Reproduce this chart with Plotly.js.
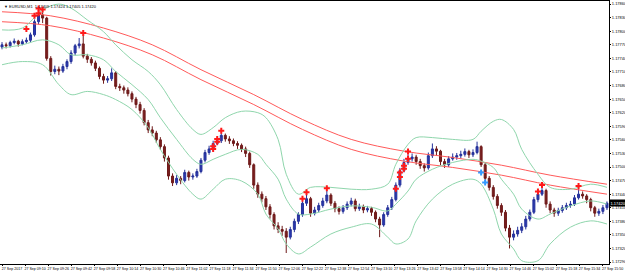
<!DOCTYPE html>
<html><head><meta charset="utf-8">
<script src="https://cdn.plot.ly/plotly-3.0.1.min.js"></script>
<style>html,body{margin:0;padding:0;background:#fff}#c{width:625px;height:273px}</style>
</head><body><div id="c"></div>
<script>
// EURUSD M1 candles
const openP = [1.17765,1.17770,1.17768,1.17775,1.17778,1.17772,1.17777,1.17780,1.17792,1.17821,
1.17836,1.17829,1.17740,1.17711,1.17716,1.17712,1.17722,1.17733,1.17752,1.17768,
1.17772,1.17745,1.17738,1.17730,1.17718,1.17700,1.17692,1.17695,1.17708,1.17678,
1.17675,1.17670,1.17662,1.17650,1.17638,1.17625,1.17598,1.17582,1.17575,1.17560,
1.17545,1.17520,1.17480,1.17465,1.17475,1.17470,1.17488,1.17478,1.17480,1.17490,
1.17515,1.17532,1.17540,1.17552,1.17558,1.17570,1.17562,1.17558,1.17552,1.17548,
1.17540,1.17530,1.17505,1.17460,1.17440,1.17430,1.17412,1.17395,1.17370,1.17362,
1.17358,1.17345,1.17362,1.17380,1.17395,1.17420,1.17430,1.17398,1.17405,1.17415,
1.17425,1.17438,1.17420,1.17408,1.17402,1.17410,1.17418,1.17425,1.17408,1.17412,
1.17405,1.17408,1.17400,1.17385,1.17372,1.17395,1.17410,1.17428,1.17460,1.17492,
1.17510,1.17518,1.17522,1.17512,1.17503,1.17498,1.17525,1.17540,1.17535,1.17512,
1.17505,1.17518,1.17522,1.17525,1.17528,1.17534,1.17527,1.17532,1.17545,1.17505,
1.17475,1.17455,1.17435,1.17415,1.17400,1.17365,1.17345,1.17352,1.17360,1.17368,
1.17385,1.17400,1.17428,1.17440,1.17448,1.17418,1.17405,1.17398,1.17404,1.17410,
1.17415,1.17418,1.17432,1.17440,1.17436,1.17428,1.17410,1.17398,1.17402,1.17410];
const highP = [1.17776,1.17775,1.17779,1.17784,1.17781,1.17782,1.17786,1.17797,1.17826,1.17845,
1.17842,1.17832,1.17745,1.17724,1.17722,1.17728,1.17738,1.17758,1.17772,1.17785,
1.17790,1.17750,1.17743,1.17735,1.17722,1.17706,1.17701,1.17718,1.17712,1.17684,
1.17680,1.17676,1.17667,1.17655,1.17644,1.17630,1.17604,1.17590,1.17580,1.17566,
1.17550,1.17525,1.17486,1.17482,1.17480,1.17494,1.17492,1.17486,1.17496,1.17520,
1.17538,1.17547,1.17558,1.17565,1.17577,1.17574,1.17568,1.17563,1.17557,1.17552,
1.17545,1.17534,1.17508,1.17466,1.17446,1.17436,1.17418,1.17400,1.17378,1.17370,
1.17365,1.17368,1.17386,1.17400,1.17428,1.17440,1.17434,1.17412,1.17421,1.17432,
1.17448,1.17442,1.17425,1.17413,1.17416,1.17424,1.17432,1.17430,1.17419,1.17417,
1.17414,1.17412,1.17404,1.17390,1.17400,1.17416,1.17434,1.17466,1.17498,1.17518,
1.17528,1.17530,1.17527,1.17518,1.17508,1.17532,1.17552,1.17546,1.17538,1.17518,
1.17524,1.17530,1.17531,1.17536,1.17541,1.17538,1.17539,1.17556,1.17548,1.17510,
1.17480,1.17460,1.17440,1.17420,1.17405,1.17372,1.17360,1.17368,1.17376,1.17392,
1.17406,1.17434,1.17450,1.17458,1.17452,1.17424,1.17410,1.17410,1.17416,1.17421,
1.17425,1.17438,1.17452,1.17446,1.17440,1.17432,1.17414,1.17408,1.17416,1.17424];
const lowP = [1.17760,1.17762,1.17764,1.17771,1.17766,1.17769,1.17773,1.17776,1.17788,1.17815,
1.17818,1.17735,1.17702,1.17705,1.17703,1.17708,1.17716,1.17728,1.17747,1.17762,
1.17740,1.17730,1.17724,1.17712,1.17694,1.17684,1.17686,1.17690,1.17672,1.17668,
1.17662,1.17656,1.17643,1.17630,1.17618,1.17592,1.17575,1.17568,1.17553,1.17538,
1.17512,1.17472,1.17458,1.17460,1.17462,1.17466,1.17470,1.17472,1.17476,1.17486,
1.17510,1.17527,1.17535,1.17548,1.17553,1.17556,1.17551,1.17546,1.17540,1.17533,
1.17522,1.17498,1.17452,1.17432,1.17422,1.17405,1.17386,1.17362,1.17354,1.17348,
1.17310,1.17340,1.17356,1.17374,1.17390,1.17414,1.17390,1.17393,1.17400,1.17410,
1.17420,1.17414,1.17400,1.17395,1.17397,1.17405,1.17413,1.17402,1.17403,1.17398,
1.17400,1.17392,1.17378,1.17345,1.17368,1.17390,1.17405,1.17424,1.17455,1.17488,
1.17505,1.17512,1.17505,1.17496,1.17490,1.17494,1.17520,1.17526,1.17504,1.17498,
1.17500,1.17514,1.17516,1.17519,1.17523,1.17520,1.17522,1.17528,1.17500,1.17468,
1.17448,1.17428,1.17408,1.17392,1.17358,1.17320,1.17338,1.17346,1.17354,1.17362,
1.17380,1.17396,1.17422,1.17436,1.17410,1.17398,1.17390,1.17392,1.17399,1.17405,
1.17410,1.17414,1.17428,1.17430,1.17420,1.17402,1.17390,1.17392,1.17396,1.17405];
const closeP = [1.17770,1.17768,1.17775,1.17778,1.17772,1.17777,1.17780,1.17792,1.17821,1.17836,
1.17829,1.17740,1.17711,1.17716,1.17712,1.17722,1.17733,1.17752,1.17768,1.17772,
1.17745,1.17738,1.17730,1.17718,1.17700,1.17692,1.17695,1.17708,1.17678,1.17675,
1.17670,1.17662,1.17650,1.17638,1.17625,1.17598,1.17582,1.17575,1.17560,1.17545,
1.17520,1.17480,1.17465,1.17475,1.17470,1.17488,1.17478,1.17480,1.17490,1.17515,
1.17532,1.17540,1.17552,1.17558,1.17570,1.17562,1.17558,1.17552,1.17548,1.17540,
1.17530,1.17505,1.17460,1.17440,1.17430,1.17412,1.17395,1.17370,1.17362,1.17358,
1.17345,1.17362,1.17380,1.17395,1.17420,1.17430,1.17398,1.17405,1.17415,1.17425,
1.17438,1.17420,1.17408,1.17402,1.17410,1.17418,1.17425,1.17408,1.17412,1.17405,
1.17408,1.17400,1.17385,1.17372,1.17395,1.17410,1.17428,1.17460,1.17492,1.17510,
1.17518,1.17522,1.17512,1.17503,1.17498,1.17525,1.17540,1.17535,1.17512,1.17505,
1.17518,1.17522,1.17525,1.17528,1.17534,1.17527,1.17532,1.17545,1.17505,1.17475,
1.17455,1.17435,1.17415,1.17400,1.17365,1.17345,1.17352,1.17360,1.17368,1.17385,
1.17400,1.17428,1.17440,1.17448,1.17418,1.17405,1.17398,1.17404,1.17410,1.17415,
1.17418,1.17432,1.17440,1.17436,1.17428,1.17410,1.17398,1.17402,1.17410,1.17420];

const bandIdx = [0,5,10,14,17,21,25,28,32,36,39,43,47,49,52,55,59,63,65,68,70,73,76,81,86,91,95,97,100,102,106,111,116,118,121,123,126,128,132,135,140,145,149];
const bbUpper = [1.17803,1.17807,1.17847,1.17860,1.17851,1.17825,1.17799,1.17770,1.17737,1.17711,1.17682,1.17627,1.17583,1.17572,1.17587,1.17609,1.17623,1.17620,1.17609,1.17561,1.17484,1.17440,1.17455,1.17455,1.17451,1.17451,1.17462,1.17506,1.17550,1.17565,1.17565,1.17561,1.17561,1.17579,1.17601,1.17605,1.17583,1.17539,1.17484,1.17455,1.17451,1.17462,1.17455];
const bbMiddle = [1.17763,1.17770,1.17781,1.17770,1.17748,1.17748,1.17737,1.17711,1.17682,1.17649,1.17609,1.17561,1.17517,1.17506,1.17517,1.17528,1.17539,1.17528,1.17506,1.17473,1.17429,1.17396,1.17396,1.17407,1.17414,1.17411,1.17403,1.17418,1.17447,1.17473,1.17495,1.17510,1.17517,1.17513,1.17499,1.17473,1.17440,1.17407,1.17385,1.17396,1.17414,1.17425,1.17418];
const bbLower = [1.17726,1.17733,1.17726,1.17682,1.17660,1.17667,1.17660,1.17649,1.17627,1.17587,1.17539,1.17484,1.17440,1.17429,1.17451,1.17473,1.17469,1.17440,1.17396,1.17363,1.17330,1.17308,1.17323,1.17352,1.17367,1.17374,1.17345,1.17330,1.17341,1.17381,1.17429,1.17462,1.17473,1.17462,1.17407,1.17352,1.17319,1.17293,1.17293,1.17330,1.17367,1.17381,1.17374];

// Moving-average envelope (red)
const envIdx = [0,12,25,37,49,62,74,86,99,111,123,135,149];
const envUpper = [1.17843,1.17834,1.17807,1.17770,1.17715,1.17660,1.17605,1.17561,1.17535,1.17521,1.17504,1.17482,1.17462];
const envLower = [1.17821,1.17812,1.17785,1.17748,1.17693,1.17638,1.17583,1.17539,1.17513,1.17499,1.17482,1.17460,1.17440];

// Signal arrows
const redArrowIdx = [6,8,9,10,9,20,52,52,53,53,54,74,75,80,97,98,98,99,99,100,100,132,133,142];
const redArrowPrice = [1.17805,1.17834,1.17850,1.17848,1.17840,1.17796,1.17540,1.17546,1.17556,1.17562,1.17580,1.17430,1.17444,1.17453,1.17452,1.17478,1.17488,1.17496,1.17503,1.17518,1.17534,1.17446,1.17460,1.17458];
const blueArrowIdx = [118,119];
const blueArrowPrice = [1.17488,1.17466];

// Axis labels
const yTicks = [1.17860,1.17830,1.17800,1.17770,1.17740,1.17710,1.17680,1.17650,1.17620,1.17590,1.17560,1.17530,1.17500,1.17470,1.17440,1.17410,1.17380,1.17350,1.17320,1.17290];
const yTickText = ["1.17860","1.17830","1.17800","1.17770","1.17740","1.17710","1.17680","1.17650","1.17620","1.17590","1.17560","1.17530","1.17500","1.17470","1.17440","1.17410","1.17380","1.17350","1.17320","1.17290"];
const xTickText = ["27 Sep 2017","27 Sep 09:10","27 Sep 09:26","27 Sep 09:42","27 Sep 09:58","27 Sep 10:14","27 Sep 10:30","27 Sep 10:46","27 Sep 11:02","27 Sep 11:18","27 Sep 11:34","27 Sep 11:50","27 Sep 12:06","27 Sep 12:22","27 Sep 12:38","27 Sep 12:54","27 Sep 13:10","27 Sep 13:26","27 Sep 13:42","27 Sep 13:58","27 Sep 14:14","27 Sep 14:30","27 Sep 14:46","27 Sep 15:02","27 Sep 15:18","27 Sep 15:34","27 Sep 15:50"];
const headerText = "▼ EURUSD,M1  1.17409 1.17424 1.17405 1.17420";
const lastPrice = 1.17420;
const lastPriceText = "1.17420";

const idx = closeP.map((_, i) => i);
const barsPerLabel = 5.69;   // label spacing in bars
const tickVals = xTickText.map((_, k) => 0.0 + k * barsPerLabel);

const font = "Liberation Sans, Arial, sans-serif";
const green = '#8fd6ac', red = '#ff5a5a';
const traces = [
  {type:'scatter', mode:'lines', x:envIdx, y:envUpper, line:{color:red, width:1, shape:'spline'}, hoverinfo:'skip'},
  {type:'scatter', mode:'lines', x:envIdx, y:envLower, line:{color:red, width:1, shape:'spline'}, hoverinfo:'skip'},
  {type:'scatter', mode:'lines', x:bandIdx, y:bbUpper, line:{color:green, width:1, shape:'spline'}, hoverinfo:'skip'},
  {type:'scatter', mode:'lines', x:bandIdx, y:bbMiddle, line:{color:green, width:1, shape:'spline'}, hoverinfo:'skip'},
  {type:'scatter', mode:'lines', x:bandIdx, y:bbLower, line:{color:green, width:1, shape:'spline'}, hoverinfo:'skip'},
  {type:'candlestick', x:idx, open:openP, high:highP, low:lowP, close:closeP, whiskerwidth:0,
   increasing:{line:{color:'#26329a', width:1}, fillcolor:'#2a38b0'},
   decreasing:{line:{color:'#6e1a1a', width:1}, fillcolor:'#7a1e1e'}, hoverinfo:'skip'},
  {type:'scatter', mode:'markers', x:redArrowIdx, y:redArrowPrice, marker:{symbol:'cross', size:5, color:'#ff1a1a'}, hoverinfo:'skip'},
  {type:'scatter', mode:'markers', x:blueArrowIdx, y:blueArrowPrice, marker:{symbol:'cross', size:5, color:'#3399ff'}, hoverinfo:'skip'}
];
const layout = {
  width:625, height:273, margin:{l:0, r:16, t:1, b:9},
  paper_bgcolor:'#ffffff', plot_bgcolor:'#ffffff', showlegend:false,
  font:{family:font, size:4, color:'#000'},
  xaxis:{range:[-0.5,149.5], showgrid:false, zeroline:false, showline:true, linecolor:'#000', linewidth:1, mirror:true,
    tickmode:'array', tickvals:tickVals, ticktext:xTickText, ticks:'outside', ticklen:1, tickcolor:'#000', tickangle:0,
    tickfont:{size:3.6, family:font}, ticklabelshift:10, ticklabelstandoff:0, rangeslider:{visible:false}, fixedrange:true, automargin:false},
  yaxis:{side:'right', range:[1.172857,1.178668], showgrid:false, zeroline:false, showline:true, linecolor:'#000', linewidth:1, mirror:true,
    tickmode:'array', tickvals:yTicks, ticktext:yTickText, ticks:'outside', ticklen:1, tickcolor:'#000',
    tickfont:{size:4, family:font}, ticklabelstandoff:0, fixedrange:true, automargin:false},
  annotations:[
    {xref:'paper', yref:'paper', x:0.003, y:0.995, xanchor:'left', yanchor:'top', text:headerText, showarrow:false, font:{size:4, family:font, color:'#000'}},
    {xref:'paper', yref:'y', x:1, y:lastPrice, xanchor:'left', yanchor:'middle', text:lastPriceText, showarrow:false,
     bgcolor:'#000', font:{size:4, family:font, color:'#fff'}, borderpad:0.5}
  ]
};
Plotly.newPlot('c', traces, layout, {staticPlot:true, displayModeBar:false});
</script></body></html>
